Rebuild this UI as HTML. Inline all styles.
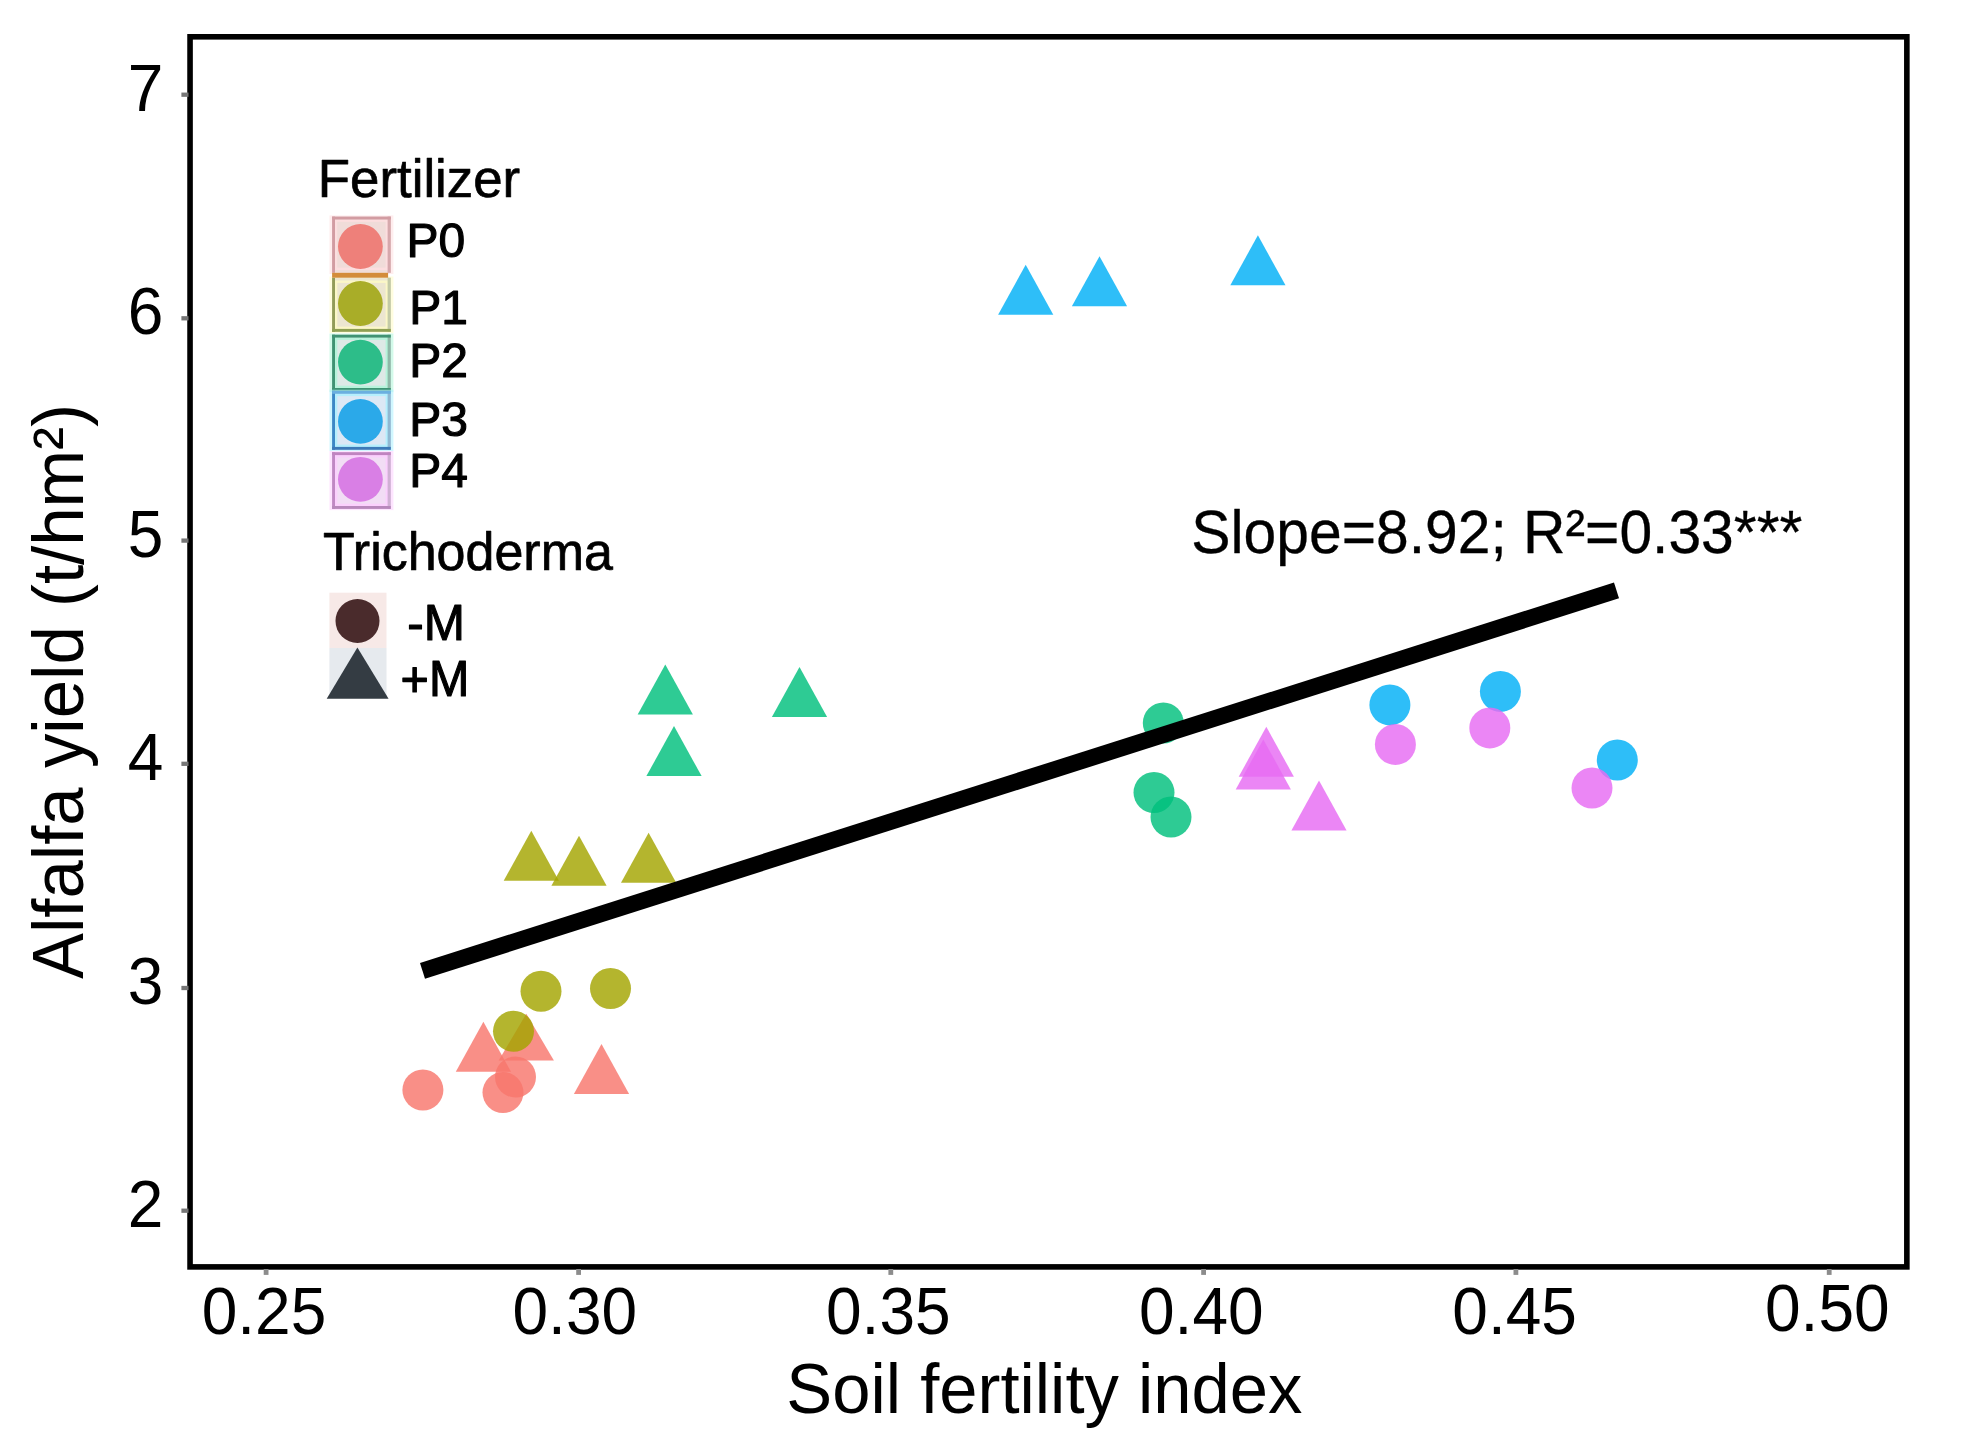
<!DOCTYPE html>
<html lang="en"><head><meta charset="utf-8"><title>Alfalfa yield vs soil fertility index</title>
<style>
html,body{margin:0;padding:0;background:#fff;}
body{width:1963px;height:1445px;overflow:hidden;}
svg{display:block;font-family:"Liberation Sans",Arial,Helvetica,sans-serif;fill:#000;}
</style></head><body>
<svg width="1963" height="1445" viewBox="0 0 1963 1445">
<rect x="0" y="0" width="1963" height="1445" fill="#ffffff"/>

<g id="points">
<circle cx="422.9" cy="1090" r="20.5" fill="#f8766d" fill-opacity="0.82"/>
<circle cx="503.0" cy="1092.5" r="20.5" fill="#f8766d" fill-opacity="0.82"/>
<circle cx="515.5" cy="1077" r="20.5" fill="#f8766d" fill-opacity="0.82"/>
<polygon points="483.4,1021.7 511.0,1071.7 455.8,1071.7" fill="#f8766d" fill-opacity="0.82"/>
<polygon points="526.3,1013.7 553.9,1060.4 498.7,1060.4" fill="#f8766d" fill-opacity="0.82"/>
<polygon points="601.5,1044.0 629.1,1094.0 573.9,1094.0" fill="#f8766d" fill-opacity="0.82"/>
<circle cx="541" cy="991.2" r="20.5" fill="#a3a500" fill-opacity="0.82"/>
<circle cx="610.5" cy="988.5" r="20.5" fill="#a3a500" fill-opacity="0.82"/>
<circle cx="513.5" cy="1031.3" r="20.5" fill="#a3a500" fill-opacity="0.82"/>
<polygon points="531.3,830.7 558.9,880.7 503.7,880.7" fill="#a3a500" fill-opacity="0.82"/>
<polygon points="579.0,835.7 606.6,885.7 551.4,885.7" fill="#a3a500" fill-opacity="0.82"/>
<polygon points="648.6,832.7 676.2,882.7 621.0,882.7" fill="#a3a500" fill-opacity="0.82"/>
<circle cx="1163.3" cy="723" r="20.5" fill="#00bf7d" fill-opacity="0.82"/>
<circle cx="1154" cy="792.5" r="20.5" fill="#00bf7d" fill-opacity="0.82"/>
<circle cx="1171" cy="817" r="20.5" fill="#00bf7d" fill-opacity="0.82"/>
<polygon points="665.3,664.4 692.9,714.4 637.7,714.4" fill="#00bf7d" fill-opacity="0.82"/>
<polygon points="674.0,726.1 701.6,776.1 646.4,776.1" fill="#00bf7d" fill-opacity="0.82"/>
<polygon points="799.5,667.1 827.1,717.1 771.9,717.1" fill="#00bf7d" fill-opacity="0.82"/>
<circle cx="1389.9" cy="704.9" r="20.5" fill="#00b0f6" fill-opacity="0.82"/>
<circle cx="1500.4" cy="691.4" r="20.5" fill="#00b0f6" fill-opacity="0.82"/>
<circle cx="1617.3" cy="760" r="20.5" fill="#00b0f6" fill-opacity="0.82"/>
<polygon points="1025.7,264.7 1053.3,314.7 998.1,314.7" fill="#00b0f6" fill-opacity="0.82"/>
<polygon points="1099.5,256.2 1127.1,306.2 1071.9,306.2" fill="#00b0f6" fill-opacity="0.82"/>
<polygon points="1257.9,235.3 1285.5,285.3 1230.3,285.3" fill="#00b0f6" fill-opacity="0.82"/>
<circle cx="1395.4" cy="744.4" r="20.5" fill="#e76bf3" fill-opacity="0.82"/>
<circle cx="1489.8" cy="727.9" r="20.5" fill="#e76bf3" fill-opacity="0.82"/>
<circle cx="1592" cy="788" r="20.5" fill="#e76bf3" fill-opacity="0.82"/>
<polygon points="1266.3,726.7 1293.9,776.7 1238.7,776.7" fill="#e76bf3" fill-opacity="0.82"/>
<polygon points="1263.3,739.4 1290.9,789.4 1235.7,789.4" fill="#e76bf3" fill-opacity="0.82"/>
<polygon points="1319.0,780.6 1346.6,830.6 1291.4,830.6" fill="#e76bf3" fill-opacity="0.82"/>
</g>
<line x1="422.5" y1="970.9" x2="1616.5" y2="590.4" stroke="#000" stroke-width="16.5"/>
<rect x="190.05" y="36.8" width="1716.8" height="1230.1" fill="none" stroke="#000" stroke-width="5.6"/>
<g id="yaxis">
<line x1="181.4" y1="94.7" x2="188.5" y2="94.7" stroke="#767676" stroke-width="4.3"/>
<text transform="translate(163.3,110.7) scale(1,1.04)" font-size="64" text-anchor="end">7</text>
<line x1="181.4" y1="318.3" x2="188.5" y2="318.3" stroke="#767676" stroke-width="4.3"/>
<text transform="translate(163.3,334.3) scale(1,1.04)" font-size="64" text-anchor="end">6</text>
<line x1="181.4" y1="540.6" x2="188.5" y2="540.6" stroke="#767676" stroke-width="4.3"/>
<text transform="translate(163.3,556.6) scale(1,1.04)" font-size="64" text-anchor="end">5</text>
<line x1="181.4" y1="763.8" x2="188.5" y2="763.8" stroke="#767676" stroke-width="4.3"/>
<text transform="translate(163.3,779.8) scale(1,1.04)" font-size="64" text-anchor="end">4</text>
<line x1="181.4" y1="988" x2="188.5" y2="988" stroke="#767676" stroke-width="4.3"/>
<text transform="translate(163.3,1004.0) scale(1,1.04)" font-size="64" text-anchor="end">3</text>
<line x1="181.4" y1="1210.7" x2="188.5" y2="1210.7" stroke="#767676" stroke-width="4.3"/>
<text transform="translate(163.3,1226.7) scale(1,1.04)" font-size="64" text-anchor="end">2</text>
</g><g id="xaxis">
<line x1="266.1" y1="1269" x2="266.1" y2="1274.9" stroke="#8c8c8c" stroke-width="4.8"/>
<text transform="translate(264,1334) scale(1,1.04)" font-size="64" text-anchor="middle">0.25</text>
<line x1="578.6" y1="1269" x2="578.6" y2="1274.9" stroke="#8c8c8c" stroke-width="4.8"/>
<text transform="translate(574.8,1334) scale(1,1.04)" font-size="64" text-anchor="middle">0.30</text>
<line x1="890.8" y1="1269" x2="890.8" y2="1274.9" stroke="#8c8c8c" stroke-width="4.8"/>
<text transform="translate(888.3,1334) scale(1,1.04)" font-size="64" text-anchor="middle">0.35</text>
<line x1="1203.6" y1="1269" x2="1203.6" y2="1274.9" stroke="#8c8c8c" stroke-width="4.8"/>
<text transform="translate(1201.3,1334) scale(1,1.04)" font-size="64" text-anchor="middle">0.40</text>
<line x1="1515.9" y1="1269" x2="1515.9" y2="1274.9" stroke="#8c8c8c" stroke-width="4.8"/>
<text transform="translate(1514.6,1334) scale(1,1.04)" font-size="64" text-anchor="middle">0.45</text>
<line x1="1829.2" y1="1269" x2="1829.2" y2="1274.9" stroke="#8c8c8c" stroke-width="4.8"/>
<text transform="translate(1827.3,1331.3) scale(1,1.04)" font-size="64" text-anchor="middle">0.50</text>
</g>
<text transform="translate(1044.4,1413.2) scale(1,1.035)" font-size="68.8" text-anchor="middle">Soil fertility index</text>
<text transform="translate(83,691.5) rotate(-90) scale(1,1.035)" font-size="69" text-anchor="middle">Alfalfa yield (t/hm²)</text>
<text transform="translate(1191.3,553.3) scale(1,1.03)" font-size="58.8" text-anchor="start" stroke="#000" stroke-width="0.3" stroke-linejoin="round">Slope=8.92; R²=0.33***</text>
<g id="legend">
<text transform="translate(317.8,197.3) scale(1,1.015)" font-size="52.8" text-anchor="start" stroke="#000" stroke-width="0.7" stroke-linejoin="round">Fertilizer</text>
<rect x="329.5" y="215.4" width="63.9" height="58.6" fill="#ffdfe0" fill-opacity="0.55"/>
<rect x="332.1" y="216.6" width="58.7" height="56.2" fill="#f0dcd9"/>
<rect x="336.1" y="220.6" width="50.7" height="48.2" fill="none" stroke="#ffdfe0" stroke-width="2.4" stroke-opacity="0.8"/>
<rect x="387.6" y="216.6" width="3.2" height="56.2" fill="#d6a8ac"/>
<rect x="332.1" y="216.6" width="2.9" height="56.2" fill="#d29ca2"/>
<rect x="332.1" y="216.6" width="58.7" height="2.9" fill="#d29ca2"/>
<circle cx="360.4" cy="246.5" r="22.4" fill="#ee807a"/>
<text transform="translate(406.5,257.1) scale(1,1.015)" font-size="48" text-anchor="start" stroke="#000" stroke-width="1.1" stroke-linejoin="round">P0</text>
<rect x="329.5" y="276.5" width="63.9" height="56.5" fill="#fffbc4" fill-opacity="0.55"/>
<rect x="332.1" y="277.7" width="58.7" height="54.1" fill="#ece6d0"/>
<rect x="336.1" y="281.7" width="50.7" height="46.1" fill="none" stroke="#fffbc4" stroke-width="2.4" stroke-opacity="0.8"/>
<rect x="387.6" y="277.7" width="3.2" height="54.1" fill="#c3caa6"/>
<rect x="332.1" y="277.7" width="2.9" height="54.1" fill="#929c58"/>
<rect x="332.1" y="328.9" width="58.7" height="2.9" fill="#8fa052"/>
<circle cx="360.4" cy="303.5" r="22.4" fill="#a9ad28"/>
<text transform="translate(409.3,323.6) scale(1,1.015)" font-size="48" text-anchor="start" stroke="#000" stroke-width="1.1" stroke-linejoin="round">P1</text>
<rect x="329.5" y="333.5" width="63.9" height="58.6" fill="#aef5d8" fill-opacity="0.55"/>
<rect x="332.1" y="334.7" width="58.7" height="56.2" fill="#dde9e6"/>
<rect x="336.1" y="338.7" width="50.7" height="48.2" fill="none" stroke="#aef5d8" stroke-width="2.4" stroke-opacity="0.8"/>
<rect x="387.6" y="334.7" width="3.2" height="56.2" fill="#8fb8a8"/>
<rect x="332.1" y="334.7" width="2.9" height="56.2" fill="#3f9373"/>
<rect x="332.1" y="334.7" width="58.7" height="2.9" fill="#3f9373"/>
<rect x="332.1" y="388.0" width="58.7" height="2.9" fill="#3f9373"/>
<circle cx="360.4" cy="362.1" r="22.4" fill="#2dbd89"/>
<text transform="translate(409.3,376.9) scale(1,1.015)" font-size="48" text-anchor="start" stroke="#000" stroke-width="1.1" stroke-linejoin="round">P2</text>
<rect x="329.5" y="389.7" width="63.9" height="61.3" fill="#abf0ff" fill-opacity="0.55"/>
<rect x="332.1" y="390.9" width="58.7" height="58.9" fill="#dce8f5"/>
<rect x="336.1" y="394.9" width="50.7" height="50.9" fill="none" stroke="#abf0ff" stroke-width="2.4" stroke-opacity="0.8"/>
<rect x="387.6" y="390.9" width="3.2" height="58.9" fill="#90b8d2"/>
<rect x="332.1" y="390.9" width="2.9" height="58.9" fill="#3c88c6"/>
<rect x="332.1" y="390.9" width="58.7" height="2.9" fill="#6ab0e0"/>
<rect x="332.1" y="446.9" width="58.7" height="2.9" fill="#3d7ab8"/>
<circle cx="360.4" cy="421.4" r="22.4" fill="#2ba9e9"/>
<text transform="translate(409.3,436.3) scale(1,1.015)" font-size="48" text-anchor="start" stroke="#000" stroke-width="1.1" stroke-linejoin="round">P3</text>
<rect x="329.5" y="451.0" width="63.9" height="59.1" fill="#fdcdff" fill-opacity="0.55"/>
<rect x="332.1" y="452.2" width="58.7" height="56.7" fill="#f2ddf5"/>
<rect x="336.1" y="456.2" width="50.7" height="48.7" fill="none" stroke="#fdcdff" stroke-width="2.4" stroke-opacity="0.8"/>
<rect x="387.6" y="452.2" width="3.2" height="56.7" fill="#d0b0d4"/>
<rect x="332.1" y="452.2" width="2.9" height="56.7" fill="#c088c4"/>
<rect x="332.1" y="452.2" width="58.7" height="2.9" fill="#c084c0"/>
<rect x="332.1" y="506.0" width="58.7" height="2.9" fill="#b888bc"/>
<circle cx="360.4" cy="479.3" r="22.4" fill="#d97fe5"/>
<text transform="translate(409.3,487.3) scale(1,1.015)" font-size="48" text-anchor="start" stroke="#000" stroke-width="1.1" stroke-linejoin="round">P4</text>
<rect x="332.1" y="272.8" width="56" height="4.9" fill="#d38c3b"/>
<text transform="translate(323,569.5) scale(1,1.015)" font-size="52" text-anchor="start" stroke="#000" stroke-width="0.7" stroke-linejoin="round">Trichoderma</text>
<rect x="329.4" y="592.7" width="57.1" height="55.3" fill="#f7e9e7"/>
<rect x="329.4" y="648" width="57.1" height="50" fill="#e6eaee"/>
<circle cx="357.5" cy="621" r="22" fill="#4a2b2c"/>
<polygon points="357.4,647.6 388.6,698.8 326.7,698.8" fill="#343c43"/>
<text transform="translate(407.3,640.3) scale(1,1.015)" font-size="49.5" text-anchor="start" stroke="#000" stroke-width="1.1" stroke-linejoin="round">-M</text>
<text transform="translate(400.6,695.8) scale(1,1.015)" font-size="48.5" text-anchor="start" stroke="#000" stroke-width="1.1" stroke-linejoin="round">+M</text>
</g>
</svg></body></html>
